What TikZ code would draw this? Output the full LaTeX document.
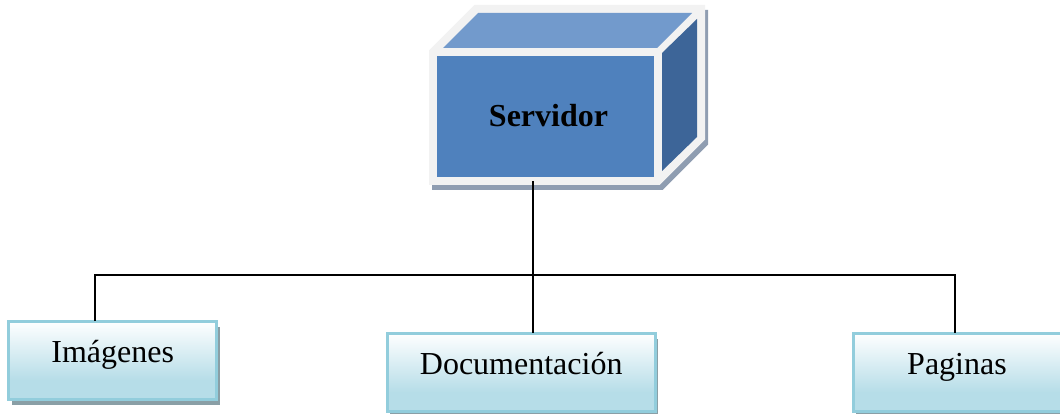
\documentclass[tikz,border=0pt]{standalone}
\usepackage{fontspec}
\setmainfont{Liberation Serif}
\usetikzlibrary{shadows}
\definecolor{frontblue}{HTML}{4F81BD}
\definecolor{topblue}{HTML}{729ACC}
\definecolor{sideblue}{HTML}{3D6598}
\definecolor{edgegray}{HTML}{F2F2F2}
\definecolor{edgecyan}{HTML}{92CDDC}
\definecolor{fillcyan}{HTML}{B6DDE8}
\definecolor{boxshadow}{HTML}{8A9FA6}
\definecolor{servershadow}{HTML}{8F9DB1}
\pgfdeclareverticalshading{boxshade}{100bp}{color(0bp)=(fillcyan); color(37bp)=(fillcyan); color(75bp)=(white); color(100bp)=(white)}
\tikzstyle{every node}=[outer sep=0pt, inner sep=0pt]
\tikzset{serverface/.style={fill=frontblue, minimum width=217pt, minimum height=121pt, outer ysep=4pt, text depth=2pt, font=\fontsize{32}{36}\selectfont\bfseries},
  serverhull/.style={draw=edgegray, fill=edgegray, line width=8pt},
  leafbox/.style={draw=edgecyan, line width=3pt, shading=boxshade, minimum height=78pt, text height=14pt, text depth=9.6pt, font=\fontsize{32}{36}\selectfont,
    general shadow={shadow xshift=3pt, shadow yshift=-6pt, fill=boxshadow}},
  wire/.style={line width=2pt}}

\begin{document}
\begin{tikzpicture}[x=1pt,y=-1pt]
    \useasboundingbox (0,0) rectangle (1060,414);
    \coordinate (busL) at (95,275);
    \coordinate (busM) at (533,275);
    \coordinate (busR) at (955,275);
    % corners of the box, on the middle of its light edge
    \coordinate (fnw) at (433,52);
    \coordinate (fse) at (658,181);
    \coordinate (fsw) at (433,181);
    \coordinate (bnw) at (476,9);
    \coordinate (bne) at (701,9);
    \coordinate (bse) at (701,138);
    \draw[serverhull, servershadow, fill=servershadow] ([shift={(3,5)}]fnw) -- ([shift={(3,5)}]bnw) -- ([shift={(3,5)}]bne) -- ([shift={(3,5)}]bse) -- ([shift={(3,5)}]fse) -- ([shift={(3,5)}]fsw) -- cycle;
    \draw[serverhull] (fnw) -- (bnw) -- (bne) -- (bse) -- (fse) -- (fsw) -- cycle;
    \fill[topblue] (443,48) -- (478,13) -- (692,13) -- (657,48) -- cycle;
    \fill[sideblue] (662,53) -- (697,19) -- (697,137) -- (662,171) -- cycle;
    \node[serverface] (servidor) at (545.5,116.5) {\hspace*{6pt}Servidor};
    \node[leafbox, minimum width=208pt] (imagenes) at (112.75,360) {Imágenes};
    \node[leafbox, minimum width=268pt] (documentacion) at (521.2,372) {Documentación};
    \node[leafbox, minimum width=208pt] (paginas) at (957,372) {Paginas};
    \draw[wire] (busL |- imagenes.north) -- (busL) -- (busR) -- (busR |- paginas.north);
    \draw[wire] (busM |- servidor.south) -- (busM |- documentacion.north);
  \end{tikzpicture}
\end{document}
